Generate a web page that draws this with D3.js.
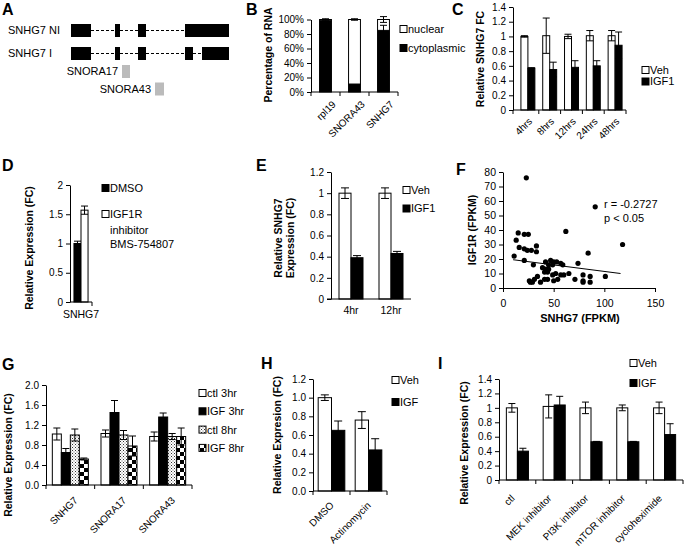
<!DOCTYPE html>
<html><head><meta charset="utf-8">
<script src="https://cdn.jsdelivr.net/npm/d3@7"></script>
<style>
body{margin:0;background:#fff;}
svg{display:block;font-family:"Liberation Sans",Arial,sans-serif;}
</style></head><body>
<svg id="fig" width="685" height="548"></svg>
<script>
// ---------------- DATA ----------------
// Panel A (gene structure, arbitrary genomic units)
const geneRows = ["SNHG7 NI", "SNHG7 I"];
const exonsNI = [[0,20],[44,49],[67,75],[114,158]];
const exonsI  = [[0,20],[44,49],[67,75],[114,122],[131,158]];
const snoLabels = ["SNORA17", "SNORA43"];
const snoPos = [[51,59],[84,93]];

// Panel B
const bCats = ["rpl19","SNORA43","SNHG7"];
const bCyto = [99, 11, 85];
const bCytoErr = [1, 1, 7];
const bNuc = [1, 89, 15];
const bNucErr = [1, 1, 4];
const bTicks = [0,20,40,60,80,100];

// Panel C
const cCats = ["4hrs","8hrs","12hrs","24hrs","48hrs"];
const cVeh = [1.0, 1.01, 1.0, 1.01, 1.01];
const cVehErr = [0.01, 0.24, 0.03, 0.07, 0.07];
const cIgf = [0.57, 0.55, 0.58, 0.60, 0.88];
const cIgfErr = [0.005, 0.10, 0.09, 0.07, 0.18];
const cTicks = [0,0.2,0.4,0.6,0.8,1,1.2,1.4];

// Panel D
const dCats = ["SNHG7"];
const dDmso = [1.0];
const dDmsoErr = [0.04];
const dInh = [1.57];
const dInhErr = [0.07];
const dTicks = [0,0.5,1,1.5,2];

// Panel E
const eCats = ["4hr","12hr"];
const eVeh = [1.0, 1.0];
const eVehErr = [0.05, 0.05];
const eIgf = [0.39, 0.43];
const eIgfErr = [0.02, 0.02];
const eTicks = [0,0.2,0.4,0.6,0.8,1,1.2];

// Panel F (scatter)
const fX = [23,91,62,118,84,101,11,13,15,21,25,16,21,24,21,33,33,28,30,39,41,44,42,47,50,53,57,59,45,49,74,26,27,29,31,34,37,41,44,49,50,54,57,60,65,71,79,79,79,86,86,52,45,42];
const fY = [76,56,39,30,24,8,22,33,38,37,37,28,27,26,19,29,25,26,16,14,11,11,18,19,18,18,17,16,16,16,17,5,4,4,6,8,4,6,6,9,5,6,9,9,10,6,9,5,4,8,4,10,13,13];
const fLineX = [10, 116];
const fLineY = [19.5, 10];
const fXTicks = [0,50,100,150];
const fYTicks = [0,10,20,30,40,50,60,70,80];

// Panel G
const gCats = ["SNHG7","SNORA17","SNORA43"];
const gSeries = ["ctl 3hr","IGF 3hr","ctl 8hr","IGF 8hr"];
const gCtl3 = [1.02, 1.03, 0.97];
const gCtl3Err = [0.12, 0.07, 0.09];
const gIgf3 = [0.65, 1.45, 1.36];
const gIgf3Err = [0.08, 0.24, 0.08];
const gCtl8 = [1.0, 1.0, 0.97];
const gCtl8Err = [0.12, 0.09, 0.06];
const gIgf8 = [0.52, 0.78, 0.97];
const gIgf8Err = [0.02, 0.20, 0.17];
const gTicks = [0,0.4,0.8,1.2,1.6,2.0];

// Panel H
const hCats = ["DMSO","Actinomycin"];
const hVeh = [1.0, 0.76];
const hVehErr = [0.03, 0.09];
const hIgf = [0.65, 0.44];
const hIgfErr = [0.10, 0.12];
const hTicks = [0,0.2,0.4,0.6,0.8,1.0,1.2];

// Panel I
const iCats = ["ctl","MEK inhibitor","PI3K inhibitor","mTOR inhibitor","cycloheximide"];
const iVeh = [1.0, 1.02, 1.0, 1.0, 1.0];
const iVehErr = [0.06, 0.16, 0.08, 0.04, 0.08];
const iIgf = [0.40, 1.04, 0.53, 0.53, 0.63];
const iIgfErr = [0.04, 0.12, 0.005, 0.005, 0.15];
const iTicks = [0,0.2,0.4,0.6,0.8,1,1.2,1.4];

// ---------------- HELPERS ----------------
const svg = d3.select("#fig");
const defs = svg.append("defs");
const pd = defs.append("pattern").attr("id","dots").attr("patternUnits","userSpaceOnUse").attr("width",3).attr("height",3);
pd.append("rect").attr("width",3).attr("height",3).attr("fill","#fff");
pd.append("rect").attr("x",0).attr("y",0).attr("width",1).attr("height",1).attr("fill","#333");
pd.append("rect").attr("x",1.5).attr("y",1.5).attr("width",1).attr("height",1).attr("fill","#666");
const pc = defs.append("pattern").attr("id","checker").attr("patternUnits","userSpaceOnUse").attr("width",8).attr("height",8);
pc.append("rect").attr("width",8).attr("height",8).attr("fill","#fff");
pc.append("rect").attr("x",0).attr("y",0).attr("width",4).attr("height",4).attr("fill","#000");
pc.append("rect").attr("x",4).attr("y",4).attr("width",4).attr("height",4).attr("fill","#000");

function letter(t, x, y) {
  svg.append("text").attr("x",x).attr("y",y).attr("font-size",16).attr("font-weight","bold").text(t);
}
function yAxis(scale, x, ticks, fmt) {
  const g = svg.append("g").attr("transform",`translate(${x},0)`)
    .call(d3.axisLeft(scale).tickValues(ticks).tickFormat(fmt).tickSize(4).tickSizeOuter(0));
  g.selectAll("text").attr("font-size",10).attr("font-family","Liberation Sans, Arial").attr("fill","#000");
  g.selectAll("line,path").attr("stroke","#000");
  return g;
}
function xBandAxis(band, y, x0) {
  const g = svg.append("g");
  const r = band.range();
  g.append("line").attr("x1",x0).attr("x2",r[1]).attr("y1",y).attr("y2",y).attr("stroke","#000");
  const n = band.domain().length;
  const st = (r[1]-r[0])/n;
  for (let i=0;i<=n;i++) {
    const xx = (i===0? x0 : r[0]+i*st);
    g.append("line").attr("x1",xx).attr("x2",xx).attr("y1",y).attr("y2",y+4).attr("stroke","#000");
  }
  return g;
}
function rotLabels(band, y, labels, dx, dy) {
  labels.forEach((l,i)=>{
    const cx = band(band.domain()[i]) + band.bandwidth()/2;
    svg.append("text").attr("transform",`translate(${cx+dx},${y+dy}) rotate(-45)`)
      .attr("text-anchor","end").attr("font-size",10).text(l);
  });
}
function yTitle(lines, x, cy, lh) {
  const t = svg.append("text").attr("transform",`translate(${x},${cy}) rotate(-90)`)
    .attr("text-anchor","middle").attr("font-size",10.5).attr("font-weight","bold");
  lines.forEach((l,i)=>{
    t.append("tspan").attr("x",0).attr("dy", i===0 ? (-(lines.length-1)*lh/2) : lh).text(l);
  });
}
function errBar(x, y1, y2, cap) {
  svg.append("line").attr("x1",x).attr("x2",x).attr("y1",y1).attr("y2",y2).attr("stroke","#000");
  svg.append("line").attr("x1",x-cap).attr("x2",x+cap).attr("y1",y1).attr("y2",y1).attr("stroke","#000");
  svg.append("line").attr("x1",x-cap).attr("x2",x+cap).attr("y1",y2).attr("y2",y2).attr("stroke","#000");
}
function groupedBars(band, y, series, cap) {
  const inner = d3.scaleBand().domain(d3.range(series.length)).range([0, band.bandwidth()]);
  series.forEach((s, si)=>{
    band.domain().forEach((c, ci)=>{
      const x = band(c) + inner(si);
      const w = inner.bandwidth();
      svg.append("rect").attr("x",x).attr("y",y(s.vals[ci])).attr("width",w)
        .attr("height", y(0)-y(s.vals[ci])).attr("fill",s.fill).attr("stroke","#000").attr("stroke-width",1);
    });
  });
  series.forEach((s, si)=>{
    band.domain().forEach((c, ci)=>{
      const x = band(c) + inner(si) + inner.bandwidth()/2;
      errBar(x, y(s.vals[ci]-s.errs[ci]), y(s.vals[ci]+s.errs[ci]), cap);
    });
  });
}
function legend(items, x, y0, dy, fs) {
  items.forEach((it,i)=>{
    const yy = y0 + i*dy;
    svg.append("rect").attr("x",x).attr("y",yy-3.5).attr("width",7).attr("height",7)
      .attr("fill",it.fill).attr("stroke","#000").attr("stroke-width",1);
    svg.append("text").attr("x",x+8).attr("y",yy).attr("dy","0.36em").attr("font-size",fs||11).text(it.label);
  });
}
const fmtG = d=> d3.format("")(+d.toFixed(2));

// ---------------- PANEL A ----------------
letter("A", 2, 15);
const aX = d3.scaleLinear().domain([0,158]).range([71,229]);
const aRowY = [30.5, 53.5];
[exonsNI, exonsI].forEach((ex, ri)=>{
  const yc = aRowY[ri];
  svg.append("text").attr("x",8).attr("y",yc).attr("dy","0.36em").attr("font-size",11).text(geneRows[ri]);
  for (let k=0;k<ex.length-1;k++) {
    svg.append("line").attr("x1",aX(ex[k][1])).attr("x2",aX(ex[k+1][0])).attr("y1",yc).attr("y2",yc)
      .attr("stroke","#000").attr("stroke-width",1.2).attr("stroke-dasharray","3,2");
  }
  ex.forEach(e=>{
    svg.append("rect").attr("x",aX(e[0])).attr("y",yc-6.5).attr("width",aX(e[1])-aX(e[0])).attr("height",13).attr("fill","#000");
  });
});
const snoY = [71.5, 89];
snoPos.forEach((p,i)=>{
  svg.append("rect").attr("x",aX(p[0])).attr("y",snoY[i]-6.5).attr("width",aX(p[1])-aX(p[0])).attr("height",13).attr("fill","#bbb");
  svg.append("text").attr("x",aX(p[0])-4).attr("y",snoY[i]).attr("dy","0.36em").attr("text-anchor","end").attr("font-size",11).text(snoLabels[i]);
});

// ---------------- PANEL B ----------------
letter("B", 246, 15);
const bY = d3.scaleLinear().domain([0,100]).range([92,19.5]);
const bXs = d3.scaleBand().domain(bCats).range([311,398]).paddingInner(0.59).paddingOuter(0.295);
bCats.forEach((c,i)=>{
  const x = bXs(c), w = bXs.bandwidth();
  svg.append("rect").attr("x",x).attr("y",bY(bCyto[i])).attr("width",w).attr("height",bY(0)-bY(bCyto[i])).attr("fill","#000").attr("stroke","#000");
  svg.append("rect").attr("x",x).attr("y",bY(bCyto[i]+bNuc[i])).attr("width",w).attr("height",bY(bCyto[i])-bY(bCyto[i]+bNuc[i])).attr("fill","#fff").attr("stroke","#000");
});
bCats.forEach((c,i)=>{
  const cx = bXs(c)+bXs.bandwidth()/2;
  const e = bCytoErr[i];
  if (i===2) errBar(cx, bY(bCyto[i]-e), bY(bCyto[i]+e), 3.5);
  const top = bCyto[i]+bNuc[i];
  errBar(cx, bY(top-bNucErr[i]), bY(top+bNucErr[i]), 3.5);
});
yAxis(bY, 311, bTicks, d=>d+"%");
xBandAxis(bXs, 92, 311);
rotLabels(bXs, 92, bCats, 11, 13);
yTitle(["Percentage of RNA"], 272, 55, 12);
legend([{label:"nuclear",fill:"#fff"},{label:"cytoplasmic",fill:"#000"}], 400, 29, 19, 11);

// ---------------- PANEL C ----------------
letter("C", 452, 15);
const cY = d3.scaleLinear().domain([0,1.4]).range([110,7]);
const cXs = d3.scaleBand().domain(cCats).range([517,626]).paddingInner(0.36).paddingOuter(0.18);
groupedBars(cXs, cY, [{vals:cVeh,errs:cVehErr,fill:"#fff"},{vals:cIgf,errs:cIgfErr,fill:"#000"}], 3.5);
yAxis(cY, 513, cTicks, fmtG);
xBandAxis(cXs, 110, 513);
rotLabels(cXs, 110, cCats, 5, 12);
yTitle(["Relative SNHG7 FC"], 484, 59, 12);
legend([{label:"Veh",fill:"#fff"},{label:"IGF1",fill:"#000"}], 642, 70, 11.5, 11);

// ---------------- PANEL D ----------------
letter("D", 2, 171);
const dY = d3.scaleLinear().domain([0,2]).range([302,185]);
const dXs = d3.scaleBand().domain(dCats).range([70,92]).paddingInner(0.36).paddingOuter(0.18);
groupedBars(dXs, dY, [{vals:dDmso,errs:dDmsoErr,fill:"#000"},{vals:dInh,errs:dInhErr,fill:"#fff"}], 3.5);
yAxis(dY, 70, dTicks, fmtG);
svg.append("line").attr("x1",70).attr("x2",92).attr("y1",302).attr("y2",302).attr("stroke","#000");
svg.append("line").attr("x1",92).attr("x2",92).attr("y1",302).attr("y2",306).attr("stroke","#000");
svg.append("text").attr("x",dXs("SNHG7")+dXs.bandwidth()/2).attr("y",318).attr("text-anchor","middle").attr("font-size",10.5).text("SNHG7");
yTitle(["Relative Expression  (FC)"], 33, 248, 12);
legend([{label:"DMSO",fill:"#000"},{label:"IGF1R",fill:"#fff"}], 102, 188, 26, 11);
svg.append("text").attr("x",110).attr("y",230).attr("dy","0.36em").attr("font-size",11).text("inhibitor");
svg.append("text").attr("x",110).attr("y",244).attr("dy","0.36em").attr("font-size",11).text("BMS-754807");

// ---------------- PANEL E ----------------
letter("E", 256, 171);
const eY = d3.scaleLinear().domain([0,1.2]).range([299,172]);
const eXs = d3.scaleBand().domain(eCats).range([331,411]).paddingInner(0.4).paddingOuter(0.2);
groupedBars(eXs, eY, [{vals:eVeh,errs:eVehErr,fill:"#fff"},{vals:eIgf,errs:eIgfErr,fill:"#000"}], 4);
yAxis(eY, 331, eTicks, fmtG);
svg.append("line").attr("x1",327).attr("x2",411).attr("y1",299).attr("y2",299).attr("stroke","#000");
eCats.forEach(c=>{
  svg.append("text").attr("x",eXs(c)+eXs.bandwidth()/2).attr("y",314).attr("text-anchor","middle").attr("font-size",10.5).text(c);
});
yTitle(["Relative SNHG7","Expression (FC)"], 288, 238, 12);
legend([{label:"Veh",fill:"#fff"},{label:"IGF1",fill:"#000"}], 403, 190, 18.5, 11);

// ---------------- PANEL F ----------------
letter("F", 456, 175);
const fXs = d3.scaleLinear().domain([0,150]).range([503,655]);
const fYs = d3.scaleLinear().domain([0,80]).range([288,172]);
const fyg = yAxis(fYs, 503, fYTicks, d=>d);
const fxg = svg.append("g").attr("transform","translate(0,288)")
  .call(d3.axisBottom(fXs).tickValues(fXTicks).tickSize(4).tickSizeOuter(0));
fxg.selectAll("text").attr("font-size",10.5).attr("fill","#000").attr("dy","1.1em");
fxg.selectAll("line,path").attr("stroke","#000");
fyg.selectAll("text").attr("font-size",10.5);
svg.append("g").selectAll("circle").data(fX).join("circle")
  .attr("cx",(d)=>fXs(d)).attr("cy",(d,i)=>fYs(fY[i])).attr("r",2.6).attr("fill","#000");
svg.append("line").attr("x1",fXs(fLineX[0])).attr("x2",fXs(fLineX[1]))
  .attr("y1",fYs(fLineY[0])).attr("y2",fYs(fLineY[1])).attr("stroke","#000").attr("stroke-width",1);
svg.append("text").attr("x",604).attr("y",208).attr("font-size",11).text("r = -0.2727");
svg.append("text").attr("x",604).attr("y",222).attr("font-size",11).text("p < 0.05");
yTitle(["IGF1R (FPKM)"], 476, 230, 12);
svg.append("text").attr("x",580).attr("y",322).attr("text-anchor","middle").attr("font-size",11).attr("font-weight","bold").text("SNHG7 (FPKM)");

// ---------------- PANEL G ----------------
letter("G", 2, 370);
const gY = d3.scaleLinear().domain([0,2]).range([485,385]);
const gXs = d3.scaleBand().domain(gCats).range([46,192]).paddingInner(0.26).paddingOuter(0.13);
groupedBars(gXs, gY, [
  {vals:gCtl3,errs:gCtl3Err,fill:"#fff"},
  {vals:gIgf3,errs:gIgf3Err,fill:"#000"},
  {vals:gCtl8,errs:gCtl8Err,fill:"url(#dots)"},
  {vals:gIgf8,errs:gIgf8Err,fill:"url(#checker)"}], 3.5);
yAxis(gY, 46, gTicks, d=>d3.format(".1f")(d));
xBandAxis(gXs, 485, 46);
rotLabels(gXs, 485, gCats, 8, 16);
yTitle(["Relative Expression (FC)"], 12, 455, 12);
legend([{label:"ctl 3hr",fill:"#fff"},{label:"IGF 3hr",fill:"#000"},{label:"ctl 8hr",fill:"url(#dots)"},{label:"IGF 8hr",fill:"url(#checker)"}], 199, 393, 18.3, 11);

// ---------------- PANEL H ----------------
letter("H", 261, 369);
const hY = d3.scaleLinear().domain([0,1.2]).range([491,379]);
const hXs = d3.scaleBand().domain(hCats).range([313,387]).paddingInner(0.28).paddingOuter(0.14);
groupedBars(hXs, hY, [{vals:hVeh,errs:hVehErr,fill:"#fff"},{vals:hIgf,errs:hIgfErr,fill:"#000"}], 4);
yAxis(hY, 313, hTicks, d=>d3.format(".1f")(d));
xBandAxis(hXs, 491, 313);
rotLabels(hXs, 491, hCats, 3, 15);
yTitle(["Relative Expresion (FC)"], 281, 435, 12);
legend([{label:"Veh",fill:"#fff"},{label:"IGF",fill:"#000"}], 392, 380, 22, 11);

// ---------------- PANEL I ----------------
letter("I", 438, 369);
const iY = d3.scaleLinear().domain([0,1.4]).range([480,379]);
const iXs = d3.scaleBand().domain(iCats).range([499,683]).paddingInner(0.4).paddingOuter(0.2);
groupedBars(iXs, iY, [{vals:iVeh,errs:iVehErr,fill:"#fff"},{vals:iIgf,errs:iIgfErr,fill:"#000"}], 3.5);
yAxis(iY, 499, iTicks, fmtG);
xBandAxis(iXs, 480, 499);
rotLabels(iXs, 480, iCats, -2, 19);
yTitle(["Relative Expression (FC)"], 468, 443, 12);
legend([{label:"Veh",fill:"#fff"},{label:"IGF",fill:"#000"}], 630, 363, 20, 11);
</script>
</body></html>
